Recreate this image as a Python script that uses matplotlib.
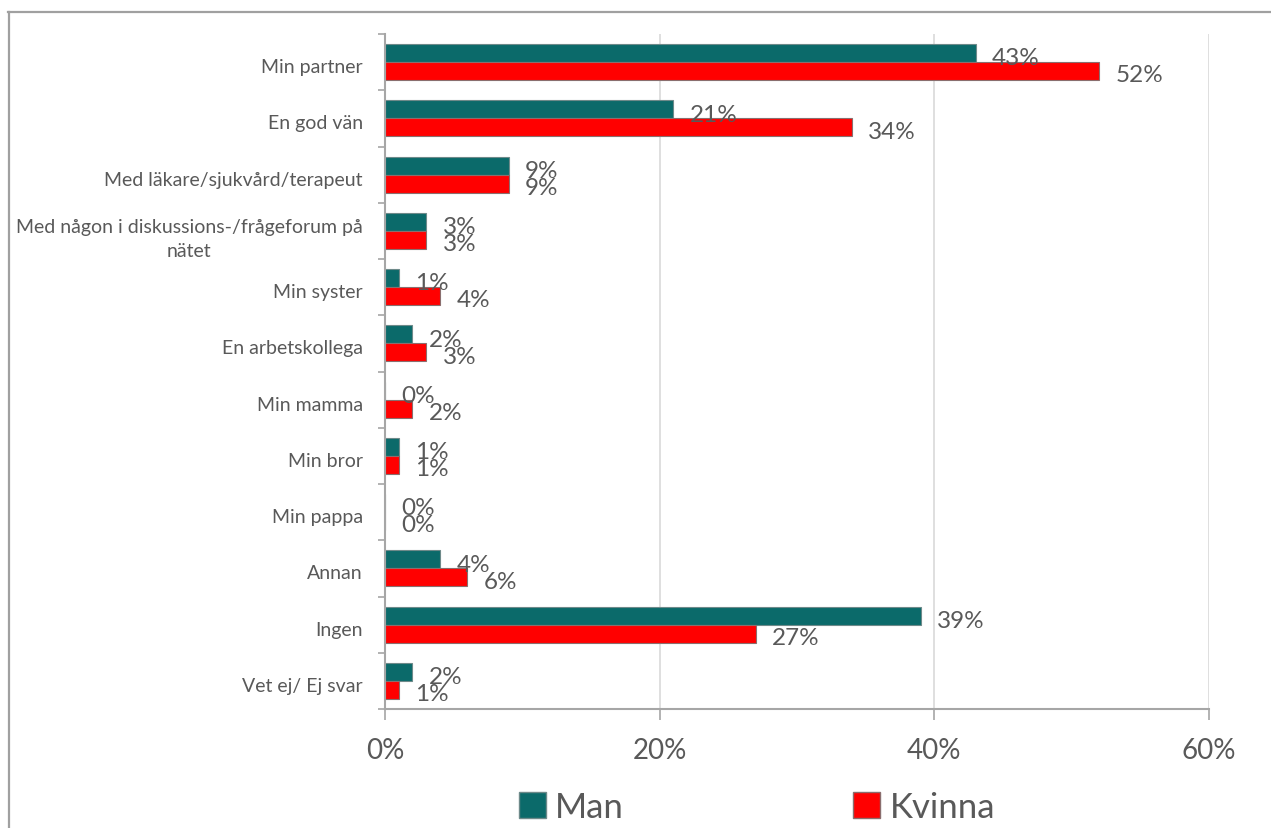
import matplotlib
matplotlib.use("Agg")
import matplotlib.pyplot as plt
from matplotlib.lines import Line2D
from matplotlib.patches import Patch
from matplotlib.transforms import ScaledTranslation
import numpy as np

categories = ["Min partner", "En god vän", "Med läkare/sjukvård/terapeut",
              "Med någon i diskussions-/frågeforum på\nnätet", "Min syster",
              "En arbetskollega", "Min mamma", "Min bror", "Min pappa",
              "Annan", "Ingen", "Vet ej/ Ej svar"]
man = [43, 21, 9, 3, 1, 2, 0, 1, 0, 4, 39, 2]
kvinna = [52, 34, 9, 3, 4, 3, 2, 1, 0, 6, 27, 1]
xticks = [0, 20, 40, 60]
xticklabels = ["0%", "20%", "40%", "60%"]

TEAL = "#0B6A6A"
RED = "#FF0000"
TXT = "#595959"
FONT = ["Lato", "DejaVu Sans"]
plt.rcParams["font.family"] = FONT

fig = plt.figure(figsize=(12.71, 8.29), dpi=100)
ax = fig.add_axes([385/1271, 119/829, 824/1271, 675/829])

y = np.arange(len(categories))
h = 0.32
ax.barh(y - h/2, man, height=h, color=TEAL, edgecolor="#6E8A8A", linewidth=0.8, zorder=3)
ax.barh(y + h/2, kvinna, height=h, color=RED, edgecolor="#8A6E6E", linewidth=0.8, zorder=3)

for i in range(len(categories)):
    ax.text(man[i] + 1.2, i - 0.075, f"{man[i]}%", va="center", ha="left",
            fontsize=17.5, color=TXT, zorder=4)
    ax.text(kvinna[i] + 1.2, i + 0.225, f"{kvinna[i]}%", va="center", ha="left",
            fontsize=17.5, color=TXT, zorder=4)

ax.set_xlim(0, 60)
ax.set_ylim(len(categories) - 0.5, -0.5)
ax.set_xticks(xticks)
ax.set_xticklabels(xticklabels, fontsize=20, color=TXT)
ax.tick_params(axis="x", length=8, width=1.2, color="#A6A6A6", pad=12)
ax.set_yticks(y)
ax.set_yticklabels(categories, fontsize=14, color=TXT, ha="right", multialignment="center",
                   linespacing=1.45)
ax.tick_params(axis="y", length=0, pad=16)
shift = ScaledTranslation(0, -3/100, fig.dpi_scale_trans)
for lab in ax.get_yticklabels():
    lab.set_transform(lab.get_transform() + shift)
ax.set_yticks(np.arange(len(categories) + 1) - 0.5, minor=True)
ax.tick_params(axis="y", which="minor", length=5, width=1.2, color="#A6A6A6")

ax.grid(axis="x", color="#D9D9D9", linewidth=1.2, zorder=0)
ax.set_axisbelow(True)
for s in ["top", "right"]:
    ax.spines[s].set_visible(False)
for s in ["left", "bottom"]:
    ax.spines[s].set_color("#A6A6A6")
    ax.spines[s].set_linewidth(1.5)
    ax.spines[s].set_zorder(5)

handles = [Patch(facecolor=TEAL, edgecolor="#6E8A8A", label="Man"),
           Patch(facecolor=RED, edgecolor="#8A6E6E", label="Kvinna")]
leg = fig.legend(handles=handles, loc="center", bbox_to_anchor=(757/1271, 21/829),
                 ncol=2, frameon=False, fontsize=25, handlelength=0.78, handleheight=0.78,
                 handletextpad=0.26, columnspacing=6.6, labelcolor=TXT)

fig.add_artist(Line2D([8/1271, 1], [1 - 12.5/829, 1 - 12.5/829], color="#A0A0A0", linewidth=1.6,
                      transform=fig.transFigure))
fig.add_artist(Line2D([9/1271, 9/1271], [0, 1 - 12.5/829], color="#A0A0A0", linewidth=1.6,
                      transform=fig.transFigure))

fig.savefig("out.png", dpi=100)
